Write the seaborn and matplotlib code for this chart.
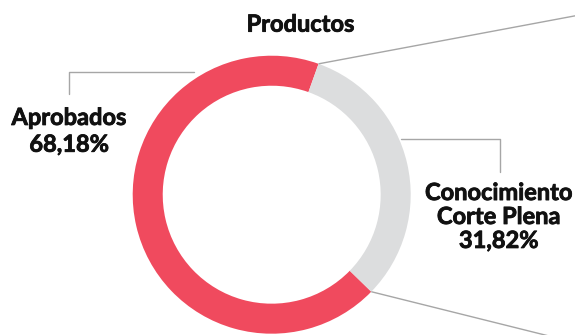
import numpy as np
import matplotlib
matplotlib.use("Agg")
import matplotlib.pyplot as plt
import matplotlib.patheffects as pe
import seaborn as sns

# Data
categories = ["Aprobados", "Conocimiento\nCorte Plena"]
shares = [68.18, 31.82]
title = "Productos"

colors = ["#F04A5E", "#DCDDDE"]
line_color = "#A6A6A6"
text_color = "#111111"

sns.set_theme(style="white")
plt.rcParams["font.family"] = ["Lato", "DejaVu Sans"]

W, H, DPI = 575, 335, 100
cx, cy, R = 271.7, 194.7, 139.0   # ring centre and outer radius in pixels

fig = plt.figure(figsize=(W / DPI, H / DPI), dpi=DPI)
ax = fig.add_axes([0, 0, 1, 1])

start = 70.3
wedges, _ = ax.pie(shares, colors=colors, startangle=start, counterclock=True,
                   radius=1.0, wedgeprops=dict(width=0.216, linewidth=0))

ax.set_xlim(-cx / R, (W - cx) / R)
ax.set_ylim(-(H - cy) / R, cy / R)
ax.axis("off")

def fmt(v):
    return f"{v:.2f}".replace(".", ",") + "%"

# connector lines leaving the ring at the two slice boundaries
b1 = np.deg2rad(start)
b2 = np.deg2rad(start + shares[0] / 100 * 360)
for b, ang in [(b1, 10.6), (b2, -14.0)]:
    p = np.array([np.cos(b), np.sin(b)])
    d = np.array([np.cos(np.deg2rad(ang)), np.sin(np.deg2rad(ang))])
    q = p + 3.0 * d
    ax.plot([p[0], q[0]], [p[1], q[1]], color=line_color, lw=1.0,
            solid_capstyle="butt")

# label leader lines
ax.plot([-0.559, -1.458, -1.458], [0.881, 0.881, 0.728], color=line_color, lw=1.0)
ax.plot([0.930, 1.639, 1.639], [0.401, 0.401, 0.163], color=line_color, lw=1.0)

fs = 17
style = dict(fontsize=fs, fontweight="bold", color=text_color,
             path_effects=[pe.withStroke(linewidth=0.6, foreground=text_color)])
ax.text(0.207, 1.173, title, ha="center", va="baseline", **style)
ax.text(-1.458, 0.309, f"{categories[0]}\n{fmt(shares[0])}", ha="center",
        va="baseline", multialignment="center", linespacing=1.2, **style)
ax.text(1.633, -0.383, f"{categories[1]}\n{fmt(shares[1])}", ha="center",
        va="baseline", multialignment="center", linespacing=1.05, **style)

fig.savefig("out.png", dpi=DPI)
